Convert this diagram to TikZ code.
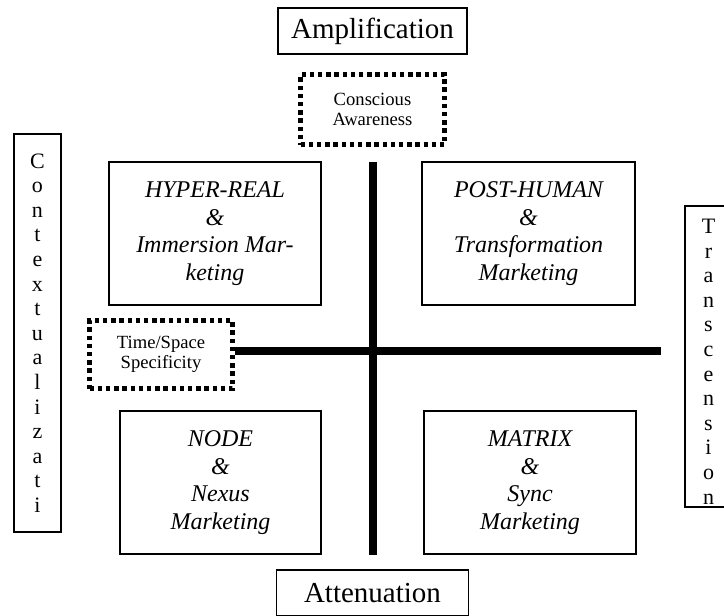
\documentclass[tikz,border=0pt]{standalone}
\usepackage{fontspec}
\setmainfont{Liberation Serif}
\begin{document}
\begin{tikzpicture}
        [x=0.5pt,y=-0.5pt,
        every node/.style={inner sep=0pt, align=center},
        pole/.style={draw, line width=0.9pt, font=\fontsize{14.5}{16}\selectfont, minimum height=23pt},
        quad/.style={draw, line width=0.9pt, font=\fontsize{12}{13.8}\selectfont\itshape, minimum height=71.5pt},
        hint/.style={draw, line width=2.2pt, dash pattern=on 2.2pt off 1.9pt, font=\fontsize{9.3}{10.2}\selectfont},
        side/.style={draw, line width=0.9pt, minimum width=23.5pt},
        letters/.style={font=\fontsize{11}{12.3}\selectfont},
        axis/.style={line width=4pt},
        ]
        \clip (0,0) rectangle (724,616);
        \node[pole, minimum width=94.5pt] (ampl) at (372.5,31) {Amplification};
        \node[pole, minimum width=96pt] (atten) at (372.5,593) {Attenuation};
        \node[hint, minimum width=72pt, minimum height=35pt] (aware) at (372.5,109.5) {Conscious\\Awareness};
        \node[hint, minimum width=71.5pt, minimum height=34pt] (ts) at (161,354.5) {Time/Space\\Specificity};
        \node[quad, minimum width=106pt] (hyper) at (215,233.5) {HYPER-REAL\\\&\\Immersion Mar-\\keting};
        \node[quad, minimum width=106.5pt] (post) at (528.5,233.5) {POST-HUMAN\\\&\\Transformation\\Marketing};
        \node[quad, minimum width=100.5pt] (nexus) at (220.5,482.5) {NODE\\\&\\Nexus\\Marketing};
        \node[quad, minimum width=106pt] (matrix) at (530,482.5) {MATRIX\\\&\\Sync\\Marketing};
        \node[side, letters, minimum height=199pt] (context) at (37.5,333)
          {C\\o\\n\\t\\e\\x\\t\\u\\a\\l\\i\\z\\a\\t\\i};
        \node[side, minimum height=150.5pt] (trans) at (708.5,356.5) {};
        \node[letters, anchor=north, yshift=-6.8pt] (transtext) at (trans.north)
          {T\\r\\a\\n\\s\\c\\e\\n\\s\\i\\o\\n};
        % the two axes
        \coordinate (vtop) at (373,162);
        \coordinate (vbot) at (373,555);
        \coordinate (hend) at (661,351);
        \draw[axis] (vtop) -- (vbot);
        \draw[axis] (ts.east |- hend) -- (hend);
\end{tikzpicture}
\end{document}
